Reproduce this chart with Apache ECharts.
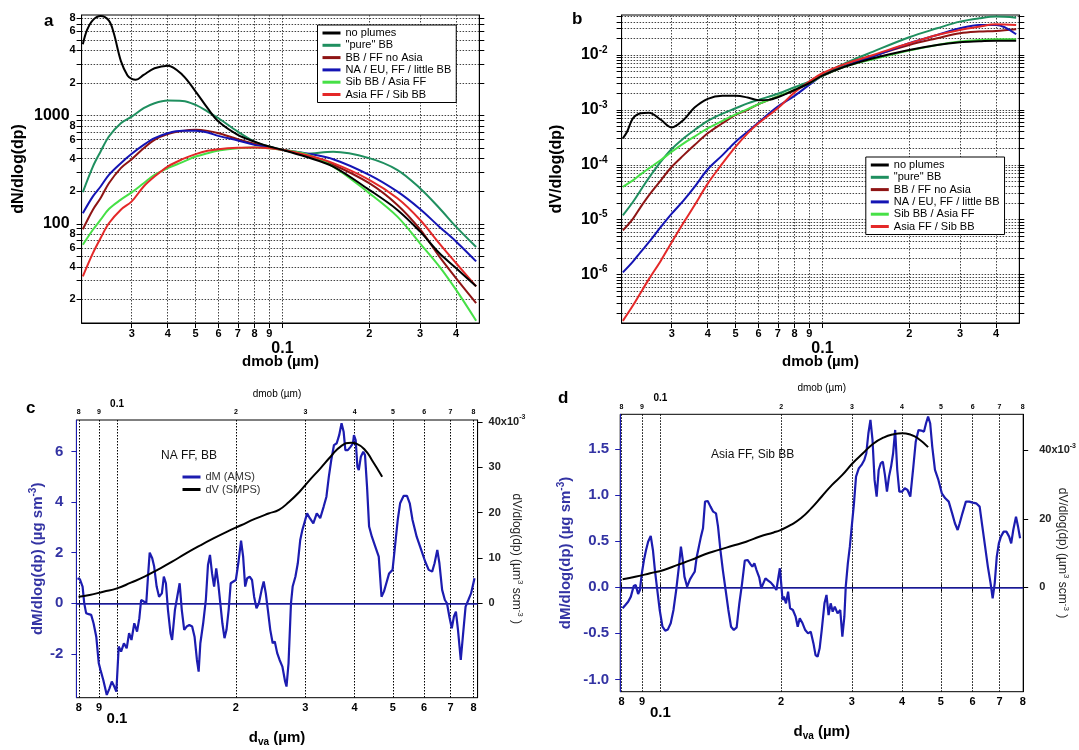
<!DOCTYPE html>
<html><head><meta charset="utf-8">
<script src="https://cdn.jsdelivr.net/npm/echarts@6/dist/echarts.min.js"></script>
<style>html,body{margin:0;padding:0;background:#fff}#chart{width:1079px;height:750px}</style>
</head><body><div id="chart"></div>
<script>
// ---------------- DATA ----------------
const seriesNames = ['no plumes', '"pure" BB', 'BB / FF no Asia', 'NA / EU, FF / little BB', 'Sib BB / Asia FF', 'Asia FF / Sib BB'];
const seriesColors = ['#000000', '#1f8f5f', '#8e1414', '#1414b4', '#46e046', '#e42828'];

// panel a : dN/dlog(dp) vs dmob (µm)
const dmobA = [0.0203,0.022,0.0234,0.025,0.0275,0.03,0.033,0.036,0.04,0.045,0.05,0.055,0.06,0.07,0.08,0.09,0.1,0.12,0.15,0.2,0.25,0.3,0.35,0.4,0.47];
const dmobA_np = [0.0203,0.021,0.022,0.0234,0.025,0.026,0.0275,0.029,0.03,0.031,0.033,0.036,0.04,0.045,0.05,0.055,0.06,0.07,0.08,0.09,0.1,0.12,0.15,0.2,0.25,0.3,0.35,0.4,0.47];
const dN_noPlumes = [4555,6180,7630,8318,7535,5754,3200,2350,2180,2140,2374,2734,2894,2374,1665,1169,880,663,575,517,482,418,338,206,135,85,53.6,39,26.4];
const dN_pureBB  = [196,338,466,640,850,979,1169,1300,1375,1366,1254,1089,945,711,575,517,482,443,462,404,315,213,140,94,61];
const dN_bbff    = [89,135,173,237,327,395,499,596,673,722,738,722,687,605,548,510,482,434,351,237,150,89,50,31.5,18.5];
const dN_naeu    = [125,179,221,283,363,443,536,618,687,722,722,697,649,588,536,507,482,449,395,283,199,137,94,68.7,44.9];
const dN_sibbb   = [64,88,109,137,167,195,237,283,327,371,418,449,475,499,506,499,482,443,338,192,117,66,40.4,24.6,12.7];
const dN_asiaff  = [32.7,53.6,73.8,101,135,161,221,273,338,395,440,472,489,503,506,499,482,434,363,255,173,109,66,43.4,26.4];

// panel b : dV/dlog(dp) vs dmob (µm)
const dmobB = [0.0203,0.022,0.0234,0.025,0.0275,0.03,0.033,0.036,0.04,0.045,0.05,0.055,0.06,0.07,0.08,0.09,0.1,0.12,0.15,0.2,0.25,0.3,0.35,0.4,0.47];
const dmobB_np = [0.0203,0.021,0.022,0.0234,0.025,0.0275,0.03,0.033,0.036,0.04,0.045,0.05,0.055,0.06,0.065,0.07,0.08,0.09,0.1,0.12,0.15,0.2,0.25,0.3,0.35,0.4,0.47];
const dV_noPlumes = [3.03e-4,4.0e-4,7.0e-4,8.7e-4,8.9e-4,6.6e-4,4.8e-4,6.6e-4,1.1e-3,1.59e-3,1.8e-3,1.8e-3,1.68e-3,1.5e-3,1.52e-3,1.7e-3,2.3e-3,3.05e-3,4.2e-3,6.14e-3,8.7e-3,1.23e-2,1.52e-2,1.7e-2,1.77e-2,1.82e-2,1.82e-2];
const dV_pureBB = [1.2e-5,2.1e-5,3.44e-5,5.78e-5,1.14e-4,1.94e-4,3.03e-4,4.3e-4,6.3e-4,8.57e-4,1.07e-3,1.31e-3,1.52e-3,1.96e-3,2.58e-3,3.27e-3,4.33e-3,7.05e-3,1.15e-2,2.1e-2,3.05e-2,4.04e-2,4.64e-2,4.98e-2,4.77e-2];
const dV_bbff   = [6.4e-6,1.04e-5,1.7e-5,2.78e-5,5.2e-5,9.2e-5,1.5e-4,2.29e-4,3.74e-4,5.7e-4,8.1e-4,1.0e-3,1.27e-3,1.75e-3,2.25e-3,3.14e-3,4.15e-3,6.3e-3,9.6e-3,1.52e-2,2.01e-2,2.48e-2,2.66e-2,2.73e-2,2.93e-2];
const dV_naeu   = [1.1e-6,1.73e-6,2.58e-6,3.9e-6,7.4e-6,1.29e-5,2.25e-5,3.96e-5,8.3e-5,1.5e-4,2.63e-4,4.0e-4,5.9e-4,1.15e-3,1.8e-3,2.85e-3,4.15e-3,6.3e-3,9.33e-3,1.63e-2,2.31e-2,3.05e-2,3.51e-2,3.51e-2,2.38e-2];
const dV_sibbb  = [3.96e-5,5.2e-5,6.7e-5,8.6e-5,1.22e-4,1.73e-4,2.46e-4,3.26e-4,4.62e-4,6.3e-4,8.3e-4,1.03e-3,1.27e-3,1.75e-3,2.31e-3,3.05e-3,4.15e-3,6.14e-3,8.34e-3,1.2e-2,1.52e-2,1.75e-2,1.87e-2,1.93e-2,1.93e-2];
const dV_asiaff = [1.44e-7,2.74e-7,4.7e-7,8.3e-7,1.8e-6,3.9e-6,8.9e-6,1.83e-5,4.55e-5,1.06e-4,2.14e-4,3.74e-4,5.7e-4,1.07e-3,2.07e-3,3.27e-3,4.64e-3,6.86e-3,1.0e-2,1.63e-2,2.31e-2,2.85e-2,3.27e-2,3.61e-2,3.51e-2];

// panel c : NA FF, BB
const cDva = [0.0794,0.0805,0.0818,0.0826,0.0835,0.0848,0.0860,0.0872,0.0886,0.0899,
0.0908,0.0923,0.0942,0.0957,0.0970,0.0984,0.0996,0.1010,0.1024,0.1041,
0.1058,0.1073,0.1088,0.1106,0.1124,0.1139,0.1151,0.1170,0.1186,0.1198,
0.1210,0.1228,0.1242,0.1260,0.1278,0.1299,0.1314,0.1330,0.1346,0.1366,
0.1379,0.1402,0.1421,0.1441,0.1459,0.1480,0.1501,0.1525,0.1550,0.1572,
0.1594,0.1610,0.1626,0.1653,0.1679,0.1700,0.1720,0.1741,0.1762,0.1784,
0.1805,0.1827,0.1849,0.1872,0.1894,0.1918,0.1941,0.1972,0.2000,0.2029,
0.2062,0.2087,0.2112,0.2137,0.2168,0.2198,0.2225,0.2256,0.2288,0.2325,
0.2353,0.2382,0.2411,0.2445,0.2480,0.2510,0.2546,0.2582,0.2624,0.2666,
0.2688,0.2720,0.2759,0.2786,0.2831,0.2871,0.2912,0.2948,0.2989,0.3031,
0.3080,0.3143,0.3207,0.3272,0.3339,0.3393,0.3441,0.3490,0.3546,0.3603,
0.3655,0.3706,0.3751,0.3789,0.3843,0.3905,0.3961,0.3984,0.4024,0.4065,
0.4098,0.4148,0.4207,0.4249,0.4300,0.4352,0.4423,0.4512,0.4604,0.4679,
0.4745,0.4812,0.4891,0.4990,0.5071,0.5143,0.5215,0.5321,0.5429,0.5517,
0.5607,0.5744,0.5860,0.6039,0.6162,0.6287,0.6376,0.6479,0.6559,0.6664,
0.6772,0.6855,0.6952,0.7050,0.7136,0.7222,0.7310,0.7429,0.7534,0.7641,
0.7765,0.7889,0.8049];
const cDM = [0.99,0.95,0.66,0,-0.39,-0.43,-0.46,-0.79,-1.32,-2.37,
-2.63,-3.03,-3.62,-3.36,-3.09,-3.29,-3.49,-1.71,-1.91,-1.58,
-1.78,-1.18,-1.45,-0.79,-1.12,-0.59,0.13,0.07,0,1.05,
2.0,1.78,1.45,0.66,0.26,0.39,1.05,0.79,-0.26,-1.18,
-1.45,-0.26,0.26,0.79,-0.26,-1.05,-0.92,-0.86,-0.92,-1.32,
-2.24,-2.70,-1.58,-0.79,0.13,1.51,1.91,1.18,0.66,1.38,
0.79,0,-0.79,-1.38,-1.05,-0.26,0.79,0.86,0.92,1.58,
2.47,1.84,0.66,0.99,1.05,0.92,0.26,-0.20,0,0.53,
0.86,0.39,-0.26,-1.05,-1.58,-1.51,-1.97,-2.24,-2.5,-3.09,
-3.29,-2.37,0,0.66,1.05,1.58,2.5,2.89,3.22,3.55,
3.36,3.16,3.55,3.36,3.82,4.21,5.0,5.66,6.25,6.32,
6.64,7.11,6.78,6.05,6.05,6.18,6.32,6.64,6.45,5.39,
5.26,5.79,5.99,5.86,4.61,3.03,2.63,2.24,1.84,0.26,
0.46,0.79,1.18,1.32,2.37,3.29,3.95,4.24,4.24,3.95,
3.29,2.63,2.24,1.64,1.32,1.25,1.58,2.11,1.58,0.53,
0.13,0,-0.53,-0.99,-0.53,-0.33,-1.05,-2.24,-1.18,-0.13,
0.13,0.39,0.99];
const cVDva = [0.0799,0.0852,0.0923,0.1,0.1084,0.1174,0.1273,0.1379,0.1495,0.1620,0.1755,0.1902,0.2062,0.2234,0.2421,0.2571,0.2731,0.2901,0.3080,0.3272,0.3475,0.3691,0.3921,0.4041,0.4249,0.4423,0.4697];
const cDV = [0.00147,0.00183,0.00257,0.00330,0.00455,0.00587,0.00749,0.00917,0.0110,0.0127,0.0143,0.0158,0.0172,0.0186,0.0198,0.0206,0.0224,0.0246,0.0272,0.0297,0.0323,0.0346,0.0354,0.0352,0.0338,0.0316,0.0279];

// panel d : Asia FF, Sib BB
const dDva = [0.0805,0.0818,0.0831,0.0844,0.0858,0.0868,0.0880,0.0889,0.0899,0.0910,
0.0921,0.0932,0.0946,0.0958,0.0969,0.0980,0.0996,0.1012,0.1028,0.1044,
0.1061,0.1078,0.1095,0.1112,0.1125,0.1137,0.1148,0.1166,0.1185,0.1203,
0.1218,0.1232,0.1247,0.1262,0.1277,0.1292,0.1312,0.1333,0.1354,0.1376,
0.1392,0.1411,0.1431,0.1454,0.1477,0.1500,0.1524,0.1549,0.1573,0.1598,
0.1623,0.1649,0.1675,0.1695,0.1715,0.1736,0.1763,0.1784,0.1805,0.1827,
0.1856,0.1885,0.1916,0.1946,0.1969,0.1985,0.2000,0.2016,0.2032,0.2056,
0.2081,0.2105,0.2139,0.2173,0.2199,0.2225,0.2261,0.2296,0.2333,0.2370,
0.2407,0.2436,0.2465,0.2494,0.2524,0.2564,0.2594,0.2625,0.2657,0.2688,
0.2720,0.2764,0.2807,0.2841,0.2874,0.2897,0.2932,0.2966,0.3001,0.3037,
0.3073,0.3122,0.3172,0.3222,0.3260,0.3299,0.3338,0.3378,0.3418,0.3459,
0.3500,0.3542,0.3584,0.3627,0.3670,0.3713,0.3758,0.3802,0.3847,0.3893,
0.3939,0.4002,0.4065,0.4130,0.4196,0.4262,0.4329,0.4398,0.4468,0.4539,
0.4593,0.4647,0.4703,0.4759,0.4834,0.4930,0.5028,0.5129,0.5231,0.5335,
0.5420,0.5506,0.5571,0.5659,0.5772,0.5887,0.6004,0.6124,0.6247,0.6345,
0.6446,0.6548,0.6652,0.6731,0.6811,0.6892,0.6974,0.7057,0.7169,0.7284,
0.7399,0.7487,0.7576,0.7696,0.7787,0.7878];
const dDM = [-0.228,-0.192,-0.156,-0.101,0.014,0.025,-0.072,-0.029,0.152,0.297,
0.406,0.496,0.558,0.406,0.188,0.007,-0.246,-0.428,-0.471,-0.457,
-0.391,-0.246,-0.029,0.225,0.442,0.297,0.116,0.007,0.087,0.134,
0.170,0.333,0.442,0.551,0.641,0.931,0.938,0.877,0.822,0.804,
0.659,0.406,0.188,-0.029,-0.246,-0.428,-0.464,-0.435,-0.174,0.043,
0.290,0.297,0.254,0.225,0.261,0.188,0.109,-0.011,0.043,0.098,
0.072,0.051,0.014,-0.029,0.116,0.207,0.043,-0.138,-0.101,-0.174,
-0.047,-0.228,-0.246,-0.319,-0.428,-0.337,-0.391,-0.464,-0.500,-0.482,
-0.609,-0.736,-0.754,-0.663,-0.464,-0.174,-0.083,-0.301,-0.174,-0.264,
-0.210,-0.283,-0.246,-0.536,-0.319,0.007,0.261,0.442,0.678,0.913,
1.203,1.293,1.330,1.384,1.457,1.674,1.819,1.601,1.167,0.986,
1.275,1.348,1.366,1.221,1.040,1.203,1.312,1.457,1.710,1.275,
1.040,1.040,1.076,1.058,0.986,1.275,1.583,1.710,1.703,1.692,
1.783,1.855,1.783,1.529,1.275,1.167,1.022,0.967,0.931,0.804,
0.696,0.623,0.696,0.804,0.931,0.931,0.920,0.913,0.877,0.659,
0.442,0.225,0.043,-0.120,0.043,0.333,0.478,0.551,0.605,0.605,
0.551,0.478,0.623,0.768,0.659,0.533];
const dVDva = [0.0805,0.0871,0.0943,0.1020,0.1104,0.1194,0.1292,0.1398,0.1512,0.1636,0.1770,0.1916,0.1992,0.2114,0.2243,0.2379,0.2524,0.2678,0.2841,0.3013,0.3197,0.3392,0.3597,0.3817,0.4010,0.4212,0.4381,0.4647];
const dDV = [0.00234,0.00312,0.00409,0.00506,0.00652,0.00798,0.00964,0.0109,0.0121,0.0133,0.0148,0.0160,0.0167,0.0182,0.0202,0.0231,0.0265,0.0299,0.0328,0.0362,0.0391,0.0419,0.0437,0.0447,0.0450,0.0445,0.0435,0.0409];

// tick values / labels
const xTicksAB  = [0.02,0.03,0.04,0.05,0.06,0.07,0.08,0.09,0.1,0.2,0.3,0.4];
const xLabelsAB = [0.03,0.04,0.05,0.06,0.07,0.08,0.09,0.1,0.2,0.3,0.4];
const yTicksA  = [20,30,40,50,60,70,80,90,100,200,300,400,500,600,700,800,900,1000,2000,3000,4000,5000,6000,7000,8000];
const yLabelsA = [20,40,60,80,100,200,400,600,800,1000,2000,4000,6000,8000];
const yTicksB = [2e-7,3e-7,4e-7,5e-7,6e-7,7e-7,8e-7,9e-7,
  1e-6,2e-6,3e-6,4e-6,5e-6,6e-6,7e-6,8e-6,9e-6,
  1e-5,2e-5,3e-5,4e-5,5e-5,6e-5,7e-5,8e-5,9e-5,
  1e-4,2e-4,3e-4,4e-4,5e-4,6e-4,7e-4,8e-4,9e-4,
  1e-3,2e-3,3e-3,4e-3,5e-3,6e-3,7e-3,8e-3,9e-3,
  1e-2,2e-2,3e-2,4e-2,5e-2];
const yLabelsB = [1e-6,1e-5,1e-4,1e-3,1e-2];
const xTicksCD = [0.08,0.09,0.1,0.2,0.3,0.4,0.5,0.6,0.7,0.8];
const yTicksC  = [-2,0,2,4,6];
const yTicksCR = [0,0.01,0.02,0.03,0.04];
const yTicksD  = [-1,-0.5,0,0.5,1,1.5];
const yTicksDR = [0,0.02,0.04];

// ---------------- CHART ----------------
const FONT = '"Liberation Sans", Arial, sans-serif';
const BLUE = '#1c1cb0';
const BLUE_TXT = '#3333a3';
function isDecade(v){ const l = Math.log10(v); return Math.abs(l - Math.round(l)) < 1e-6; }
function lead(v){ const e = Math.floor(Math.log10(v) + 1e-9); return String(Math.round(v / Math.pow(10, e))); }
function pairs(xs, ys){ return xs.map((x, i) => [x, ys[i]]); }

const dotted = {show: true, lineStyle: {color: '#444', type: [1.5, 1.5], width: 1}};

function xAB(gi){
  return {
    type: 'log', gridIndex: gi, min: 0.0201, max: 0.482, position: 'bottom',
    axisLine: {show: true, lineStyle: {color: '#000', width: 1}},
    axisTick: {show: true, length: 5, customValues: xTicksAB, lineStyle: {color: '#000'}},
    splitLine: dotted,
    axisLabel: {customValues: xLabelsAB, margin: 5, fontSize: 11, fontWeight: 'bold', color: '#000',
      formatter: v => isDecade(v) ? '{big|0.1}' : lead(v),
      rich: {big: {fontSize: 16, fontWeight: 'bold', color: '#000', padding: [13, 0, 0, 0]}}},
    name: 'dmob (µm)', nameLocation: 'middle', nameGap: 31, nameMoveOverlap: false,
    nameTextStyle: {fontSize: 15, fontWeight: 'bold', color: '#000'}
  };
}
function yRightTicks(gi, min, max, ticks){
  return {type: 'log', gridIndex: gi, min: min, max: max, position: 'right',
    axisLine: {show: true, lineStyle: {color: '#000'}},
    axisTick: {show: true, length: 5, customValues: ticks, lineStyle: {color: '#000'}},
    axisLabel: {show: false}, splitLine: {show: false}};
}
function xCD(gi, min, max, pos){
  const bottom = pos === 'bottom';
  return {
    type: 'log', gridIndex: gi, min: min, max: max, position: pos,
    axisLine: {show: true, lineStyle: {color: '#000'}},
    axisTick: {show: true, length: bottom ? 4 : 3, customValues: xTicksCD, lineStyle: {color: '#000'}},
    splitLine: bottom ? {show: true, lineStyle: {color: '#000', type: [1.5, 1.5], width: 1}} : {show: false},
    axisLabel: {customValues: xTicksCD, margin: bottom ? 5 : 4,
      fontSize: bottom ? 11 : 7, fontWeight: 'bold', color: '#000',
      formatter: v => isDecade(v) ? '{big|0.1}' : lead(v),
      rich: {big: {fontSize: bottom ? 15 : 10, fontWeight: 'bold', color: '#000',
        padding: bottom ? [9, 0, 0, 0] : [0, 0, 7, 0]}}},
    name: bottom ? '{m|d}{sub|va}{m| (µm)}' : 'dmob (µm)',
    nameLocation: 'middle', nameGap: bottom ? 30 : 21, nameMoveOverlap: false,
    nameTextStyle: bottom ? {rich: {
        m: {fontSize: 15, fontWeight: 'bold', color: '#000', lineHeight: 20},
        sub: {fontSize: 10, fontWeight: 'bold', color: '#000', lineHeight: 10, verticalAlign: 'bottom'}}}
      : {fontSize: 10, color: '#000'}
  };
}
function rightName(){
  return {
    name: '{m|dV/dlog(dp) (µm}{s|3}{m| scm}{s|-3}{m| )}', nameLocation: 'middle', nameGap: 31,
    nameRotate: -90, nameMoveOverlap: false,
    nameTextStyle: {rich: {
      m: {fontSize: 12, color: '#222', lineHeight: 16},
      s: {fontSize: 8, color: '#222', lineHeight: 8, verticalAlign: 'top'}}}
  };
}
function leftNameCD(gap){
  return {
    name: '{m|dM/dlog(dp) (µg sm}{s|-3}{m|)}', nameLocation: 'middle', nameGap: gap, nameMoveOverlap: false,
    nameTextStyle: {rich: {
      m: {fontSize: 15, fontWeight: 'bold', color: BLUE_TXT, lineHeight: 20},
      s: {fontSize: 10, fontWeight: 'bold', color: BLUE_TXT, lineHeight: 10, verticalAlign: 'top'}}}
  };
}
const rightLabel = (margin) => ({
  margin: margin, fontSize: 11, fontWeight: 'bold', color: '#222',
  formatter: v => Math.abs(v - 0.04) < 1e-9 ? '{n|40x10}{s|-3}' : String(Math.round(v * 1000)),
  rich: {n: {fontSize: 11, fontWeight: 'bold', color: '#222', lineHeight: 16},
         s: {fontSize: 7, fontWeight: 'bold', color: '#222', lineHeight: 8, verticalAlign: 'top'}}
});

const option = {
  animation: false,
  backgroundColor: '#fff',
  textStyle: {fontFamily: FONT},
  grid: [
    {left: 81.6, top: 15, width: 397.7, height: 308, show: true, borderColor: '#000', borderWidth: 1},
    {left: 621.6, top: 15, width: 397.7, height: 308, show: true, borderColor: '#000', borderWidth: 1},
    {left: 76.4, top: 420, width: 401.2, height: 277.7, show: true, borderColor: '#000', borderWidth: 1},
    {left: 620.2, top: 414.3, width: 404.3, height: 277.4, show: true, borderColor: '#000', borderWidth: 1}
  ],
  xAxis: [
    xAB(0), xAB(1),
    xCD(2, 0.0789, 0.8196, 'bottom'), xCD(2, 0.0789, 0.8196, 'top'),
    xCD(3, 0.0794, 0.802, 'bottom'), xCD(3, 0.0794, 0.802, 'top')
  ],
  yAxis: [
    { // 0: a left
      type: 'log', gridIndex: 0, min: 12.1, max: 8500,
      axisLine: {show: true, lineStyle: {color: '#000'}},
      axisTick: {show: true, length: 5, customValues: yTicksA, lineStyle: {color: '#000'}},
      splitLine: dotted,
      axisLabel: {customValues: yLabelsA, margin: 6, fontSize: 11, fontWeight: 'bold', color: '#000',
        formatter: v => isDecade(v) ? '{big|' + Math.round(v) + '}' : lead(v),
        rich: {big: {fontSize: 16, fontWeight: 'bold', color: '#000', padding: [0, 6, 0, 0]}}},
      name: 'dN/dlog(dp)', nameLocation: 'middle', nameGap: 55, nameMoveOverlap: false,
      nameTextStyle: {fontSize: 16, fontWeight: 'bold', color: '#000'}
    },
    yRightTicks(0, 12.1, 8500, yTicksA),
    { // 2: b left
      type: 'log', gridIndex: 1, min: 1.32e-7, max: 0.0533,
      axisLine: {show: true, lineStyle: {color: '#000'}},
      axisTick: {show: true, length: 5, customValues: yTicksB, lineStyle: {color: '#000'}},
      splitLine: dotted,
      axisLabel: {customValues: yLabelsB, margin: 14, color: '#000',
        formatter: v => '{b|10}{s|' + Math.round(Math.log10(v)) + '}',
        rich: {b: {fontSize: 16, fontWeight: 'bold', color: '#000', lineHeight: 20},
               s: {fontSize: 10, fontWeight: 'bold', color: '#000', lineHeight: 10, verticalAlign: 'top'}}},
      name: 'dV/dlog(dp)', nameLocation: 'middle', nameGap: 57, nameMoveOverlap: false,
      nameTextStyle: {fontSize: 16, fontWeight: 'bold', color: '#000'}
    },
    yRightTicks(1, 1.32e-7, 0.0533, yTicksB),
    Object.assign({ // 4: c left
      type: 'value', gridIndex: 2, min: -3.73, max: 7.24,
      axisLine: {show: true, lineStyle: {color: BLUE}},
      axisTick: {show: true, length: 5, customValues: yTicksC, lineStyle: {color: BLUE}},
      splitLine: {show: false},
      axisLabel: {customValues: yTicksC, margin: 13, fontSize: 15, fontWeight: 'bold', color: BLUE_TXT}
    }, leftNameCD(28.5)),
    Object.assign({ // 5: c right
      type: 'value', gridIndex: 2, min: -0.0208, max: 0.0404, position: 'right',
      axisLine: {show: true, lineStyle: {color: '#000'}},
      axisTick: {show: true, length: 5, customValues: yTicksCR, lineStyle: {color: '#000'}},
      splitLine: {show: false},
      axisLabel: Object.assign({customValues: yTicksCR}, rightLabel(11))
    }, rightName()),
    Object.assign({ // 6: d left
      type: 'value', gridIndex: 3, min: -1.134, max: 1.88,
      axisLine: {show: true, lineStyle: {color: BLUE}},
      axisTick: {show: true, length: 5, customValues: yTicksD, lineStyle: {color: BLUE}},
      splitLine: {show: false},
      axisLabel: {customValues: yTicksD, margin: 11, fontSize: 15, fontWeight: 'bold', color: BLUE_TXT,
        formatter: v => v.toFixed(1)}
    }, leftNameCD(44.4)),
    Object.assign({ // 7: d right
      type: 'value', gridIndex: 3, min: -0.0305, max: 0.0505, position: 'right',
      axisLine: {show: true, lineStyle: {color: '#000'}},
      axisTick: {show: true, length: 5, customValues: yTicksDR, lineStyle: {color: '#000'}},
      splitLine: {show: false},
      axisLabel: Object.assign({customValues: yTicksDR}, rightLabel(16))
    }, rightName())
  ],
  legend: [
    {left: 317.5, top: 25, orient: 'vertical', data: seriesNames, icon: 'rect', itemWidth: 18, itemHeight: 3, itemGap: 0.3,
     padding: [2, 5, 2, 5], borderColor: '#000', borderWidth: 1, backgroundColor: '#fff',
     textStyle: {fontSize: 11, color: '#000', lineHeight: 12}},
    {left: 865.8, top: 157, orient: 'vertical', data: seriesNames, icon: 'rect', itemWidth: 18, itemHeight: 3, itemGap: 0.3,
     padding: [2, 5, 2, 5], borderColor: '#000', borderWidth: 1, backgroundColor: '#fff',
     textStyle: {fontSize: 11, color: '#000', lineHeight: 12}},
    {left: 182.5, top: 471, orient: 'vertical', data: ['dM (AMS)', 'dV (SMPS)'], icon: 'rect', itemWidth: 18, itemHeight: 3, itemGap: 0.5,
     padding: 0, textStyle: {fontSize: 11, color: '#333', lineHeight: 12}}
  ],
  graphic: [
    {type: 'text', left: 44, top: 13, style: {text: 'a', font: 'bold 17px ' + FONT, fill: '#000'}},
    {type: 'text', left: 572, top: 11, style: {text: 'b', font: 'bold 17px ' + FONT, fill: '#000'}},
    {type: 'text', left: 26, top: 400, style: {text: 'c', font: 'bold 17px ' + FONT, fill: '#000'}},
    {type: 'text', left: 558, top: 390, style: {text: 'd', font: 'bold 17px ' + FONT, fill: '#000'}},
    {type: 'text', left: 161, top: 450, style: {text: 'NA FF, BB', font: '12px ' + FONT, fill: '#111'}},
    {type: 'text', left: 711, top: 449, style: {text: 'Asia FF, Sib BB', font: '12px ' + FONT, fill: '#111'}}
  ],
  series: []
};

const aY = [dN_noPlumes, dN_pureBB, dN_bbff, dN_naeu, dN_sibbb, dN_asiaff];
const bY = [dV_noPlumes, dV_pureBB, dV_bbff, dV_naeu, dV_sibbb, dV_asiaff];
const order = [1, 2, 3, 4, 5, 0];
order.forEach(i => {
  option.series.push({type: 'line', name: seriesNames[i], xAxisIndex: 0, yAxisIndex: 0,
    data: pairs(i === 0 ? dmobA_np : dmobA, aY[i]), showSymbol: false, symbol: 'none', smooth: 0.35,
    lineStyle: {color: seriesColors[i], width: 2}, itemStyle: {color: seriesColors[i]}, z: 3});
});
order.forEach(i => {
  option.series.push({type: 'line', name: seriesNames[i], xAxisIndex: 1, yAxisIndex: 2,
    data: pairs(i === 0 ? dmobB_np : dmobB, bY[i]), showSymbol: false, symbol: 'none', smooth: 0.35,
    lineStyle: {color: seriesColors[i], width: 2}, itemStyle: {color: seriesColors[i]}, z: 3});
});
const zeroLine = {silent: true, symbol: 'none', label: {show: false},
  lineStyle: {color: '#2424b4', type: 'solid', width: 1.5, opacity: 1},
  emphasis: {disabled: true}, data: [{yAxis: 0}]};
option.series.push(
  {type: 'line', name: 'dM (AMS)', xAxisIndex: 2, yAxisIndex: 4, data: pairs(cDva, cDM),
   showSymbol: false, symbol: 'none', lineStyle: {color: BLUE, width: 2.2}, itemStyle: {color: BLUE}, markLine: zeroLine},
  {type: 'line', name: 'dV (SMPS)', xAxisIndex: 2, yAxisIndex: 5, data: pairs(cVDva, cDV),
   showSymbol: false, symbol: 'none', smooth: true, lineStyle: {color: '#000', width: 2}, itemStyle: {color: '#000'}},
  {type: 'line', name: 'dM (AMS) Asia', xAxisIndex: 4, yAxisIndex: 6, data: pairs(dDva, dDM),
   showSymbol: false, symbol: 'none', lineStyle: {color: BLUE, width: 2.2}, itemStyle: {color: BLUE}, markLine: zeroLine},
  {type: 'line', name: 'dV (SMPS) Asia', xAxisIndex: 4, yAxisIndex: 7, data: pairs(dVDva, dDV),
   showSymbol: false, symbol: 'none', smooth: true, lineStyle: {color: '#000', width: 2}, itemStyle: {color: '#000'}}
);

const chart = echarts.init(document.getElementById('chart'), null, {renderer: 'canvas'});
chart.setOption(option);
</script>
</body></html>
